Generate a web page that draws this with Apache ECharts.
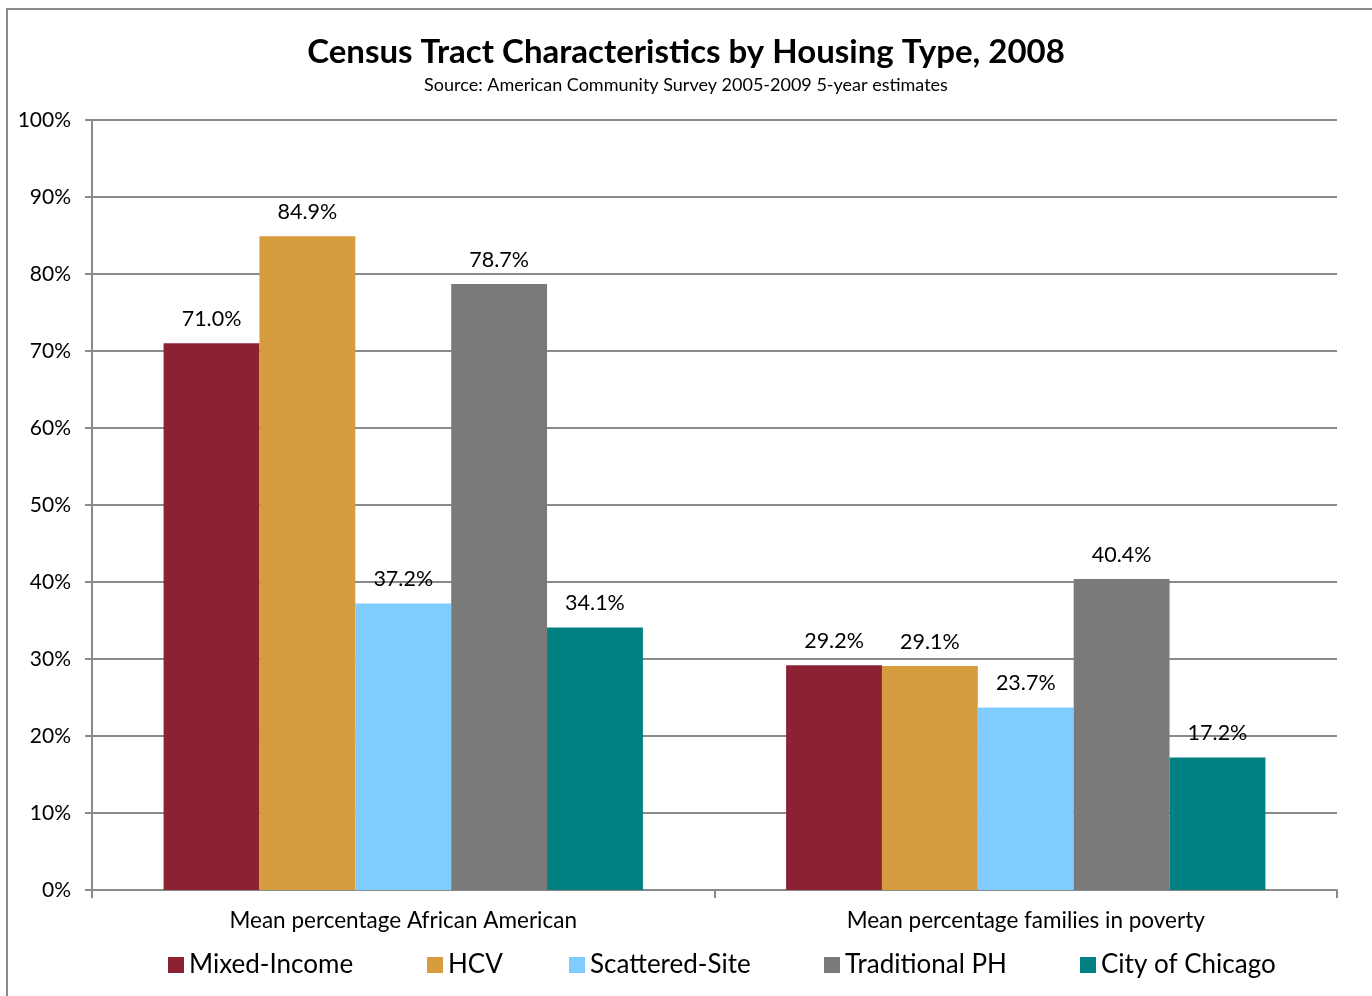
<!DOCTYPE html>
<html><head><meta charset="utf-8">
<script src="https://cdn.jsdelivr.net/npm/echarts@6/dist/echarts.min.js"></script>
<style>html,body{margin:0;padding:0;background:#fff}#c{width:1372px;height:996px}</style>
</head><body><div id="c"></div>
<script>
const categories = ['Mean percentage African American', 'Mean percentage families in poverty'];
const seriesNames = ['Mixed-Income', 'HCV', 'Scattered-Site', 'Traditional PH', 'City of Chicago'];
const mixedIncome = [71.0, 29.2];
const hcv = [84.9, 29.1];
const scatteredSite = [37.2, 23.7];
const traditionalPH = [78.7, 40.4];
const cityOfChicago = [34.1, 17.2];
const colors = ['#8B2234', '#D69C40', '#80CCFF', '#7A7A7A', '#008080'];
const values = [mixedIncome, hcv, scatteredSite, traditionalPH, cityOfChicago];
const legendLeft = [163, 422, 564, 819, 1075];
const FONT = 'Lato';

const chart = echarts.init(document.getElementById('c'), null, {renderer: 'canvas'});
chart.setOption({
  animation: false,
  textStyle: {fontFamily: FONT},
  graphic: [{type: 'rect', shape: {x: 7, y: 9, width: 1400, height: 1100}, style: {fill: 'none', stroke: '#8a8a8a', lineWidth: 2}, z: -1}],
  title: {
    text: 'Census Tract Characteristics by Housing Type, 2008',
    subtext: 'Source: American Community Survey 2005-2009 5-year estimates',
    left: 'center', top: 31, itemGap: 7,
    textStyle: {fontFamily: FONT, fontSize: 33, fontWeight: 'bold', color: '#000'},
    subtextStyle: {fontFamily: FONT, fontSize: 18, color: '#000'}
  },
  legend: seriesNames.map((n, i) => ({
    data: [n], left: legendLeft[i], top: 947, itemWidth: 16, itemHeight: 16, icon: 'rect',
    textStyle: {fontFamily: FONT, fontSize: 26, color: '#000'}, itemGap: 0
  })),
  grid: {left: 92, right: 35, top: 120, bottom: 106},
  xAxis: {
    type: 'category', data: categories,
    axisLine: {lineStyle: {color: '#8a8a8a', width: 2}},
    axisTick: {show: true, length: 8, lineStyle: {color: '#8a8a8a', width: 2}},
    axisLabel: {fontFamily: FONT, fontSize: 22.5, color: '#000', margin: 19}
  },
  yAxis: {
    type: 'value', min: 0, max: 100, interval: 10,
    axisLine: {show: true, lineStyle: {color: '#8a8a8a', width: 2}},
    axisTick: {show: true, length: 7, lineStyle: {color: '#8a8a8a', width: 2}},
    splitLine: {lineStyle: {color: '#8a8a8a', width: 2}},
    axisLabel: {fontFamily: FONT, fontSize: 21, color: '#000', margin: 21, formatter: v => v + '%'}
  },
  series: seriesNames.map((n, i) => ({
    name: n, type: 'bar', data: values[i], barGap: '0%', barCategoryGap: '23%',
    itemStyle: {color: colors[i]},
    label: {show: true, position: 'top', distance: 13, fontFamily: FONT, fontSize: 21.5, color: '#000',
      formatter: p => p.value.toFixed(1) + '%'}
  }))
});
</script></body></html>
